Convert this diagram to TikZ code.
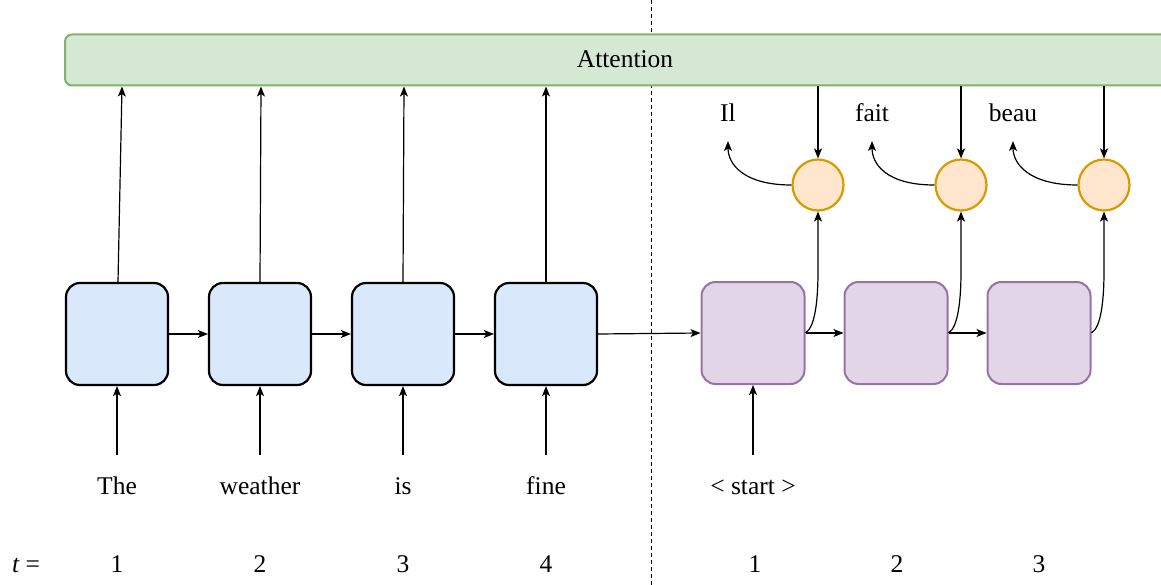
\documentclass[tikz,border=0pt]{standalone}
\usepackage{fontspec}
\setmainfont{Liberation Serif}
\usetikzlibrary{arrows.meta,calc}
\definecolor{encfill}{HTML}{DAE8FC}
\definecolor{decfill}{HTML}{E1D5E7}
\definecolor{decdraw}{HTML}{9673A6}
\definecolor{cfill}{HTML}{FFE6CC}
\definecolor{cdraw}{HTML}{D79B00}
\definecolor{afill}{HTML}{D5E8D4}
\definecolor{adraw}{HTML}{82B366}
\begin{document}
\begin{tikzpicture}[x=1pt,y=-1pt,
  enc/.style={draw=black, line width=2.2pt, fill=encfill, rounded corners=14pt, minimum width=102pt, minimum height=102pt, inner sep=0pt},
  dec/.style={draw=decdraw, line width=2pt, fill=decfill, rounded corners=14pt, minimum width=103pt, minimum height=102pt, inner sep=0pt},
  circ/.style={circle, draw=cdraw, line width=2.2pt, fill=cfill, minimum size=51pt, inner sep=0pt},
  attbox/.style={draw=adraw, line width=2pt, fill=afill, rounded corners=7pt, minimum width=1120pt, minimum height=51pt, inner sep=0pt},
  lbl/.style={font=\fontsize{25.5}{30}\selectfont, anchor=base, inner sep=0pt},
  arr/.style={-{Stealth[length=10pt,width=8pt,inset=2.5pt]}, line width=1.2pt}]
\clip (0,0) rectangle (1161,585);
% divider
\coordinate (dtop) at (651,0);
\coordinate (dbot) at (651,585);
\draw[line width=1pt, dash pattern=on 4pt off 3pt] (dtop) -- (dbot);
% attention
\node[attbox] (att) at (625,60) {};
\node[lbl] (attl) at (625,68) {Attention};
% encoder
\node[enc] (e1) at (117,334) {};
\node[enc] (e2) at (260,334) {};
\node[enc] (e3) at (403,334) {};
\node[enc] (e4) at (546,334) {};
% decoder
\node[dec] (d1) at (753,333) {};
\node[dec] (d2) at (896,333) {};
\node[dec] (d3) at (1039,333) {};
% circles
\node[circ] (c1) at (818,185) {};
\node[circ] (c2) at (961,185) {};
\node[circ] (c3) at (1104,185) {};
% input words
\node[lbl] (w1) at (117,494) {The};
\node[lbl] (w2) at (260,494) {weather};
\node[lbl] (w3) at (403,494) {is};
\node[lbl] (w4) at (546,494) {fine};
\node[lbl] (w5) at (753,494) {< start >};
% output words
\node[lbl] (o1) at (728,122) {Il};
\node[lbl] (o2) at (872,122) {fait};
\node[lbl] (o3) at (1013,122) {beau};
% time row
\node[lbl] (tl) at (26,572) {\itshape t\upshape\ =};
\node[lbl] (t1) at (117,572) {1};
\node[lbl] (t2) at (260,572) {2};
\node[lbl] (t3) at (403,572) {3};
\node[lbl] (t4) at (546,572) {4};
\node[lbl] (t5) at (755,572) {1};
\node[lbl] (t6) at (897,572) {2};
\node[lbl] (t7) at (1039,572) {3};
% input arrows
\foreach \w/\b in {w1/e1,w2/e2,w3/e3,w4/e4,w5/d1}{
  \draw[arr] ($(\w.base)+(0,-39)$) -- (\b.south);
}
% encoder to attention
\draw[arr] ([xshift=1pt]e1.north) -- ($(e1.north |- att.south)+(5,0)$);
\draw[arr] (e2.north) -- ($(e2.north |- att.south)+(1,0)$);
\draw[arr] (e3.north) -- ($(e3.north |- att.south)+(1,0)$);
\draw[arr] (e4.north) -- (e4.north |- att.south);
% recurrent arrows
\draw[arr] (e1.east) -- (e2.west);
\draw[arr] (e2.east) -- (e3.west);
\draw[arr] (e3.east) -- (e4.west);
\draw[arr] (e4.east) -- (d1.west);
\draw[arr] (d1.east) -- (d2.west);
\draw[arr] (d2.east) -- (d3.west);
% decoder to circles
\foreach \d/\c in {d1/c1,d2/c2,d3/c3}{
  \draw[arr] (\d.east) .. controls ($(\d.east)+(10,-6)$) and ($(\c.south |- \d.east)+(0,-35)$) .. ($(\c.south |- \d.east)+(0,-62)$) -- (\c.south);
}
% attention to circles
\foreach \c in {c1,c2,c3}{
  \draw[arr] (\c.north |- att.south) -- (\c.north);
}
% circles to outputs
\foreach \c/\o in {c1/o1,c2/o2,c3/o3}{
  \draw[arr] (\c.west) .. controls ($(\c.west)+(-48,0)$) and ($(\o.base)+(0,42)$) .. ($(\o.base)+(0,19)$);
}
\end{tikzpicture}
\end{document}
